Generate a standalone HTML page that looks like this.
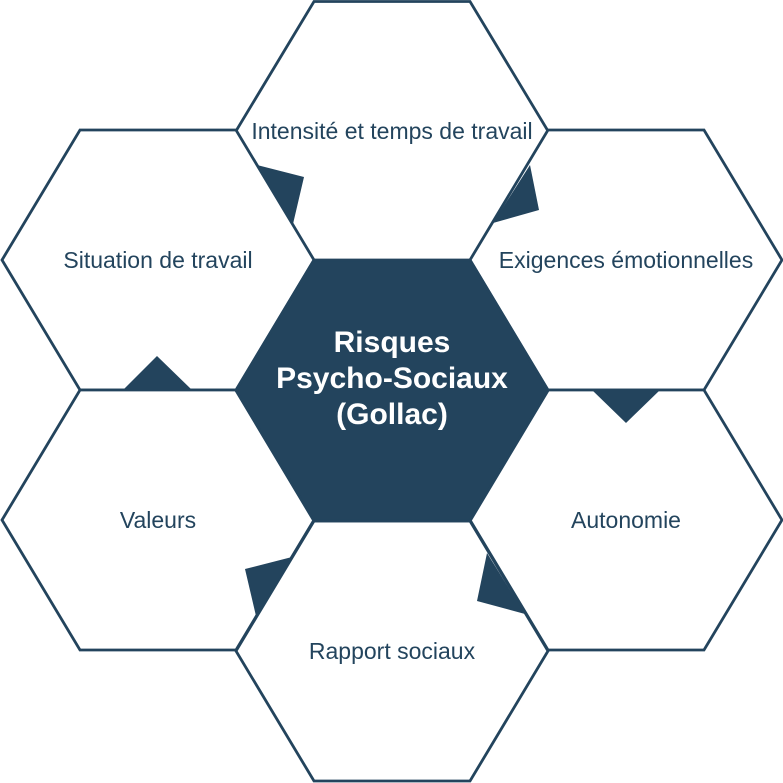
<!DOCTYPE html>
<html>
<head>
<meta charset="utf-8">
<style>
  html, body { margin: 0; padding: 0; background: #ffffff; }
  svg { display: block; }
  .t { font-family: "Liberation Sans", Arial, sans-serif; font-size: 23px; fill: #23445D; text-anchor: middle; }
  .b { font-family: "Liberation Sans", Arial, sans-serif; font-size: 30px; font-weight: bold; fill: #ffffff; text-anchor: middle; }
</style>
</head>
<body>
<svg width="783" height="783" viewBox="0 0 783 783" xmlns="http://www.w3.org/2000/svg">
  <g fill="#ffffff" stroke="#23445D" stroke-width="2.8" stroke-linejoin="miter">
    <!-- top -->
    <polygon points="314,1.5 470,1.5 548,131 470,261 314,261 236,131"/>
    <!-- top-left -->
    <polygon points="80,130 236,130 314,260 236,390 80,390 2,260"/>
    <!-- top-right -->
    <polygon points="548,130 704,130 782,260 704,390 548,390 470,260"/>
    <!-- bottom-left -->
    <polygon points="80,390 236,390 314,520 236,650 80,650 2,520"/>
    <!-- bottom-right -->
    <polygon points="548,390 704,390 782,520 704,650 548,650 470,520"/>
    <!-- bottom -->
    <polygon points="314,521 470,521 548,651 470,781 314,781 236,651"/>
  </g>
  <!-- center -->
  <polygon points="314,260 470,260 548,390.5 470,521 314,521 236,390.5" fill="#23445D" stroke="#23445D" stroke-width="2.8"/>

  <!-- triangles -->
  <g fill="#23445D">
    <polygon points="257,165 304,177 293,224"/>
    <polygon points="530,165 539,210 493,223"/>
    <polygon points="123,390 157,356 192,390"/>
    <polygon points="592,390 626,423 660,390"/>
    <polygon points="292,557 245,569 256,616"/>
    <polygon points="487,553 477,601 525,614"/>
  </g>

  <!-- labels -->
  <text class="t" x="392" y="139">Intensité et temps de travail</text>
  <text class="t" x="158" y="268">Situation de travail</text>
  <text class="t" x="626" y="268">Exigences émotionnelles</text>
  <text class="t" x="158" y="528">Valeurs</text>
  <text class="t" x="626" y="528">Autonomie</text>
  <text class="t" x="392" y="659">Rapport sociaux</text>

  <text class="b" x="392" y="352">Risques</text>
  <text class="b" x="392" y="388">Psycho-Sociaux</text>
  <text class="b" x="392" y="424">(Gollac)</text>
</svg>
</body>
</html>
